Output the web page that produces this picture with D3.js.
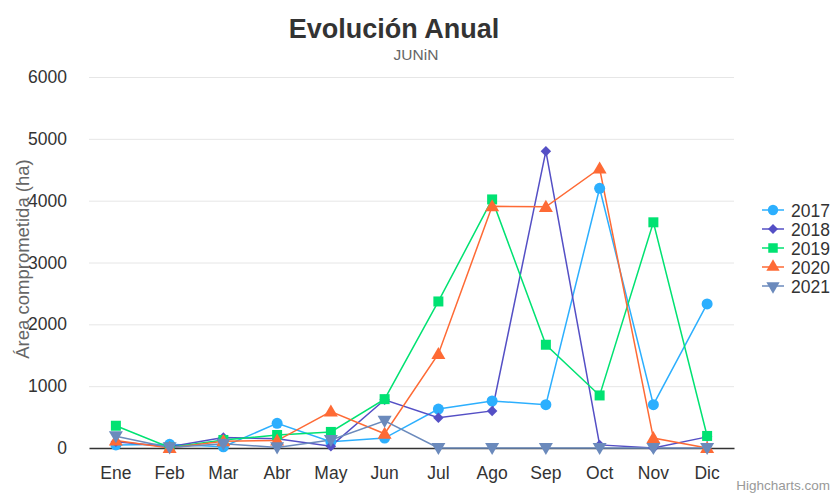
<!DOCTYPE html>
<html><head><meta charset="utf-8">
<script src="https://cdn.jsdelivr.net/npm/d3@7"></script>
<style>body{margin:0;background:#fff}svg{font-family:"Liberation Sans",Arial,Helvetica,sans-serif}</style>
</head><body><svg id="c" width="832" height="497"></svg>
<script>
const months = ["Ene","Feb","Mar","Abr","May","Jun","Jul","Ago","Sep","Oct","Nov","Dic"];
const yTicks = [0,1000,2000,3000,4000,5000,6000];
const s2017 = [50,60,20,400,100,160,630,760,700,4200,700,2330];
const s2018 = [100,20,170,150,30,780,490,600,4800,50,0,180];
const s2019 = [360,10,130,210,260,790,2370,4020,1670,850,3650,195];
const s2020 = [120,0,110,120,590,230,1520,3910,3900,4520,160,0];
const s2021 = [190,10,70,10,130,440,0,0,0,0,0,0];
const seriesNames = ["2017","2018","2019","2020","2021"];
const seriesData = [s2017,s2018,s2019,s2020,s2021];
const colors = ["#2caffe","#544fc5","#00e272","#fe6a35","#6b8abc"];
const symbols = [d3.symbolCircle,d3.symbolSquare,d3.symbolSquare,d3.symbolTriangle,d3.symbolTriangle];
const symSizes = [95,55,100,85,85];
const rot = [0,45,0,0,180];

const svg = d3.select("#c");
const L=89,R=734,T=77,B=448;
const x = d3.scaleBand().domain(months).range([L,R]);
const y = d3.scaleLinear().domain([0,6000]).range([B,T]);

svg.append("text").attr("x",394).attr("y",38).attr("text-anchor","middle")
  .attr("font-size",27).attr("font-weight","bold").attr("fill","#333").text("Evolución Anual");
svg.append("text").attr("x",416).attr("y",60).attr("text-anchor","middle")
  .attr("font-size",15.5).attr("fill","#666").text("JUNiN");

const g = svg.append("g");
g.selectAll("line.grid").data(yTicks.filter(v=>v>0)).join("line")
  .attr("x1",L).attr("x2",R).attr("y1",d=>y(d)+0.5).attr("y2",d=>y(d)+0.5)
  .attr("stroke","#e6e6e6").attr("stroke-width",1);
const ya = svg.append("g").attr("transform",`translate(${L},0)`)
  .call(d3.axisLeft(y).tickValues(yTicks).tickSize(0).tickPadding(22).tickFormat(d3.format("d")));
ya.select(".domain").remove();
ya.selectAll("text").attr("font-size",17.5).attr("fill","#333").attr("font-family","Liberation Sans,Arial,sans-serif");
const xa = svg.append("g").attr("transform",`translate(0,${B})`)
  .call(d3.axisBottom(x).tickSize(0).tickPadding(19));
xa.select(".domain").attr("stroke","#333").attr("stroke-width",1.5);
xa.selectAll("text").attr("font-size",17.5).attr("fill","#333").attr("font-family","Liberation Sans,Arial,sans-serif");

svg.append("text").attr("transform","translate(29,259) rotate(-90)").attr("text-anchor","middle")
  .attr("font-size",18.5).attr("fill","#666").text("Área comprometida (ha)");

const cx = m => x(m)+x.bandwidth()/2;
const line = d3.line().x((d,i)=>cx(months[i])).y(d=>y(d));
seriesData.forEach((data,si)=>{
  svg.append("path").datum(data).attr("d",line).attr("fill","none")
    .attr("stroke",colors[si]).attr("stroke-width",1.5);
});
seriesData.forEach((data,si)=>{
  svg.append("g").selectAll("path").data(data).join("path")
    .attr("d",d3.symbol(symbols[si],symSizes[si]))
    .attr("transform",(d,i)=>`translate(${cx(months[i])},${y(d)+(si>=3?(si==4?-1:1):0)}) rotate(${rot[si]})`)
    .attr("fill",colors[si]);
});

const lg = svg.append("g");
seriesNames.forEach((n,i)=>{
  const yy = 210 + i*19;
  lg.append("line").attr("x1",762).attr("x2",784).attr("y1",yy).attr("y2",yy)
    .attr("stroke",colors[i]).attr("stroke-width",1.5);
  lg.append("path").attr("d",d3.symbol(symbols[i],symSizes[i]*0.9))
    .attr("transform",`translate(773,${yy}) rotate(${rot[i]})`).attr("fill",colors[i]);
  lg.append("text").attr("x",791).attr("y",yy+6.5).attr("font-size",17.5).attr("fill","#333").text(n);
});

svg.append("text").attr("x",830).attr("y",490).attr("text-anchor","end")
  .attr("font-size",13.5).attr("fill","#999").text("Highcharts.com");
</script></body></html>
